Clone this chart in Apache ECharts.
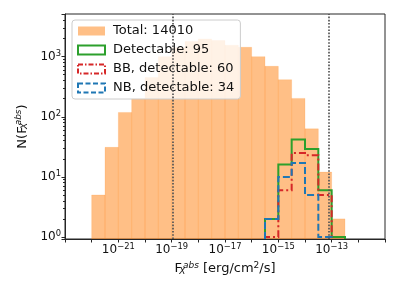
<!DOCTYPE html>
<html><head><meta charset="utf-8">
<script src="https://cdn.jsdelivr.net/npm/echarts@6/dist/echarts.min.js"></script>
<style>html,body{margin:0;padding:0;background:#fff}#c{width:399px;height:299px}</style>
</head><body><div id="c"></div>
<script>
// bin edges as log10(F_X^abs), 0.5 dex bins
const binEdgesExp = [-22,-21.5,-21,-20.5,-20,-19.5,-19,-18.5,-18,-17.5,-17,-16.5,-16,-15.5,-15,-14.5,-14,-13.5,-13,-12.5];
const totalCounts = [5,31,118,200,450,1000,1400,1780,1970,1850,1550,1430,1000,690,414,202,63,12,2];
const detectableCounts = [0,0,0,0,0,0,0,0,0,0,0,0,0,2,16,42,29,6,1];
const bbCounts = [0,0,0,0,0,0,0,0,0,0,0,0,0,1,6,25,23,5,0];
const nbCounts = [0,0,0,0,0,0,0,0,0,0,0,0,0,2,10,17,5,1,0];
const limitLinesExp = [-18.95, -13.12];
const seriesNames = ['Total: 14010','Detectable: 95','BB, detectable: 60','NB, detectable: 34'];
const xTickExps = [-21,-19,-17,-15,-13];
const yTickExps = [0,1,2,3];

const FONT = 'DejaVu Sans';
const xMin = -23, xMax = -11, yMin = 0.926, yMax = 5120;

function binData(counts){
  return counts.map((c,i)=>[binEdgesExp[i], binEdgesExp[i+1], c]);
}
function supLabel(e){ return '{b|10}{s|' + (e<0?'\u2212':'') + Math.abs(e) + '}'; }
const rich = {
  b:{fontSize:12, fontFamily:FONT, color:'#111'},
  s:{fontSize:8.4, fontFamily:FONT, color:'#111', padding:[0,0,6,0]}
};
const nameRich = {
  n:{fontSize:13, fontFamily:FONT, color:'#111'},
  sub:{fontSize:9, fontFamily:FONT, fontStyle:'italic', color:'#111', padding:[0,0,-5,0], width:1},
  sup:{fontSize:9, fontFamily:FONT, fontStyle:'italic', color:'#111', padding:[0,0,7,0]},
  sq:{fontSize:9, fontFamily:FONT, color:'#111', padding:[0,0,7,0]}
};

function stepSeries(name, counts, color, dash){
  let f = -1, l = -1;
  counts.forEach((c,i)=>{ if(c>0){ if(f<0) f=i; l=i; } });
  return {
    type:'custom', name:name, clip:true, z:3,
    data: binData(counts),
    encode:{x:0, y:2},
    renderItem:function(params, api){
      if (params.dataIndex !== f) return null;
      const pts = [api.coord([binEdgesExp[f], yMin])];
      for (let i=f;i<=l;i++){
        const y = counts[i] > 0 ? counts[i] : yMin;
        pts.push(api.coord([binEdgesExp[i], y]));
        pts.push(api.coord([binEdgesExp[i+1], y]));
      }
      pts.push(api.coord([binEdgesExp[l+1], yMin]));
      return {type:'polyline', shape:{points:pts}, style:{stroke:color, lineWidth:2, fill:null, lineDash:dash}};
    }
  };
}

const chart = echarts.init(document.getElementById('c'), null, {renderer:'canvas'});
chart.setOption({
  animation:false,
  grid:{left:65, right:14, top:14, bottom:60, show:true, borderColor:'#262626', borderWidth:1, backgroundColor:'transparent'},
  xAxis:{
    type:'value', min:xMin, max:xMax, interval:1,
    axisLine:{show:true, lineStyle:{color:'#262626', width:1}},
    axisTick:{show:true, length:3.5, lineStyle:{color:'#262626'}},
    splitLine:{show:false},
    axisLabel:{interval:0, margin:4, showMinLabel:true, showMaxLabel:true,
      formatter:v=> xTickExps.indexOf(Math.round(v))>=0 && Math.abs(v-Math.round(v))<1e-6 ? supLabel(Math.round(v)) : '',
      rich:rich},
    name:'{n|F}{sub|X}{sup|abs}{n| [erg/cm}{sq|2}{n|/s]}',
    nameLocation:'middle', nameGap:21,
    nameTextStyle:{rich:nameRich}
  },
  yAxis:{
    type:'log', logBase:10, min:yMin, max:yMax, splitNumber:4,
    axisLine:{show:true, lineStyle:{color:'#262626', width:1}},
    axisTick:{show:true, length:3.5, lineStyle:{color:'#262626'}},
    minorTick:{show:true, splitNumber:9, length:2, lineStyle:{color:'#262626'}},
    splitLine:{show:false}, minorSplitLine:{show:false},
    axisLabel:{margin:4, rich:rich, formatter:v=>{
      const l = Math.log10(v), e = Math.round(l);
      return (Math.abs(l-e)<1e-6 && yTickExps.indexOf(e)>=0) ? supLabel(e) : '';
    }},
    name:'{n|N(F}{sub|X}{sup|abs}{n|)}',
    nameLocation:'middle', nameGap:33,
    nameTextStyle:{rich:nameRich}
  },
  legend:{
    orient:'vertical', left:72, top:20, padding:[3.5,6,3.5,5],
    itemWidth:27, itemHeight:9, itemGap:4,
    backgroundColor:'rgba(255,255,255,0.8)', borderColor:'#cccccc', borderWidth:1, borderRadius:3,
    textStyle:{fontSize:13, fontFamily:FONT, color:'#111', lineHeight:15, padding:[0,0,0,3]},
    data:[
      {name:seriesNames[0], icon:'rect', itemStyle:{color:'rgba(255,127,14,0.5)', borderWidth:0}},
      {name:seriesNames[1], icon:'rect', itemStyle:{color:'rgba(0,0,0,0)', borderColor:'#2ca02c', borderWidth:2}},
      {name:seriesNames[2], icon:'rect', itemStyle:{color:'rgba(0,0,0,0)', borderColor:'#d62728', borderWidth:2, borderType:[5,2,1.5,2]}},
      {name:seriesNames[3], icon:'rect', itemStyle:{color:'rgba(0,0,0,0)', borderColor:'#1f77b4', borderWidth:2, borderType:[5,2.5]}}
    ]
  },
  series:[
    {
      type:'custom', name:seriesNames[0], clip:true, z:2,
      data: binData(totalCounts),
      encode:{x:0, y:2},
      renderItem:function(params, api){
        const p0 = api.coord([api.value(0), api.value(2)]);
        const p1 = api.coord([api.value(1), yMin]);
        return {type:'rect', shape:{x:p0[0], y:p0[1], width:p1[0]-p0[0], height:p1[1]-p0[1]},
          style:{fill:'rgba(255,127,14,0.5)', stroke:'rgba(255,127,14,0.15)', lineWidth:1}};
      },
      markLine:{
        silent:true, symbol:'none', label:{show:false},
        lineStyle:{color:'#555', width:1.7, type:[1.6,1.6]},
        data: limitLinesExp.map(v=>({xAxis:v}))
      }
    },
    stepSeries(seriesNames[1], detectableCounts, '#2ca02c', null),
    stepSeries(seriesNames[2], bbCounts, '#d62728', [7,3,2,3]),
    stepSeries(seriesNames[3], nbCounts, '#1f77b4', [7,3])
  ]
});
</script></body></html>
